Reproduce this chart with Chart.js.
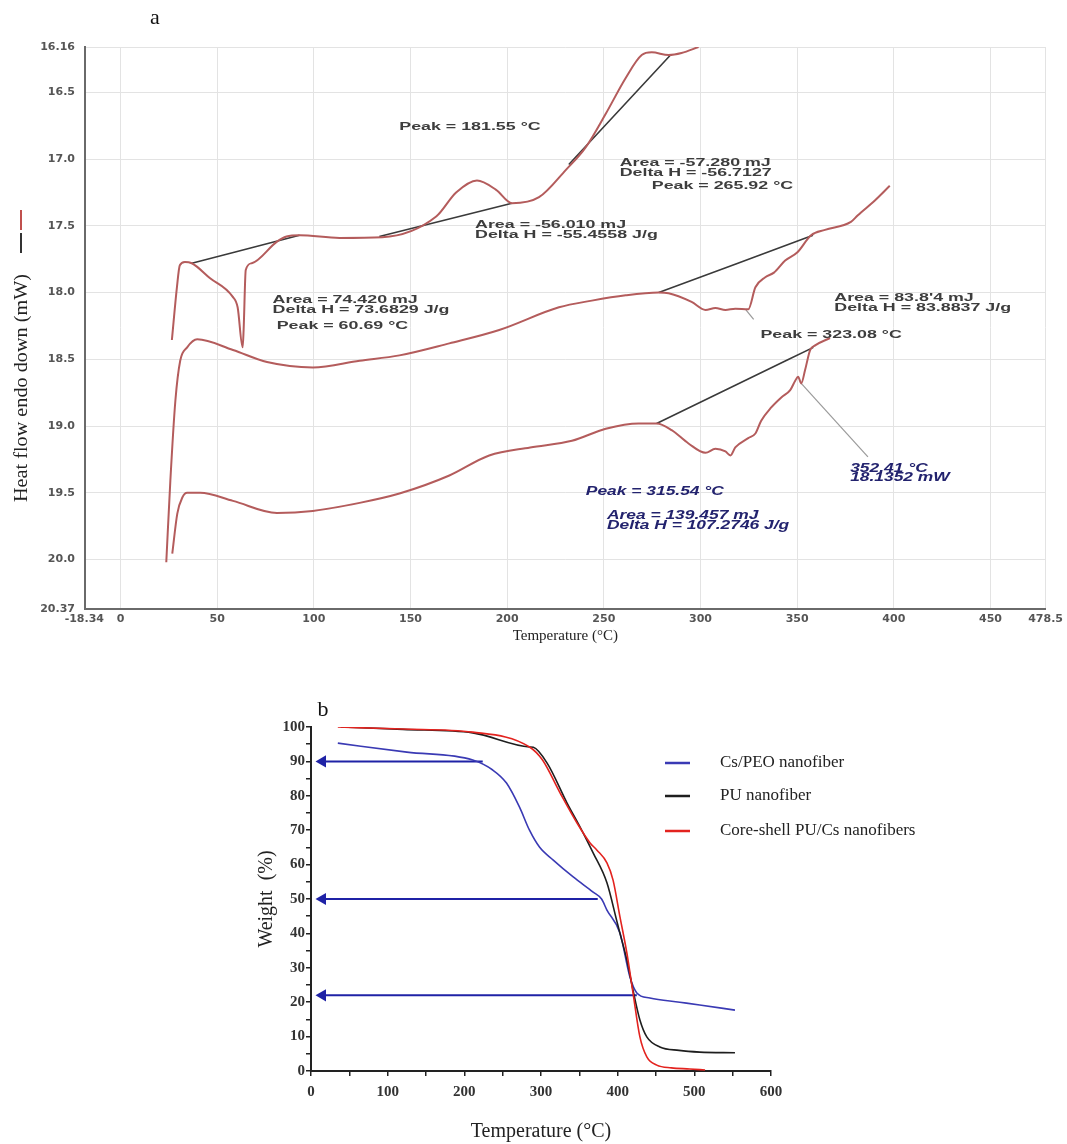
<!DOCTYPE html>
<html>
<head>
<meta charset="utf-8">
<script src="https://cdn.jsdelivr.net/npm/chart.js@4.4.1/dist/chart.umd.min.js"></script>
<style>
  html, body { margin: 0; padding: 0; background: #fff; }
  #page { position: relative; width: 1067px; height: 1144px; overflow: hidden; }
  .box { position: absolute; left: 0; width: 1067px; }
  #boxA { top: 0; height: 650px; }
  #boxB { top: 650px; height: 494px; }
</style>
</head>
<body>
<div id="page">
  <div class="box" id="boxA"><canvas id="dsc"></canvas></div>
  <div class="box" id="boxB"><canvas id="tga"></canvas></div>
</div>
<script>
// ---- (a) DSC curves ----
var dscTicksX = [-18.34, 0, 50, 100, 150, 200, 250, 300, 350, 400, 450, 478.5];
var dscTicksY = [16.16, 16.5, 17.0, 17.5, 18.0, 18.5, 19.0, 19.5, 20.0, 20.37];

var topTemp = [26.6, 29.2, 30.7, 33.3, 36.9, 46.2, 58.0, 60.6, 63.2, 63.7, 64.8, 67.9, 80.8, 85.9, 92.6, 113.3, 135.4, 163.3, 173.6, 184.4, 194.3, 202.5, 216.5, 230.4, 240.7, 251.0, 261.4, 269.6, 274.8, 283.5, 290.2, 299.0];
var topHeat = [18.355, 17.96, 17.795, 17.77, 17.78, 17.89, 18.03, 18.11, 18.41, 18.28, 17.83, 17.78, 17.62, 17.58, 17.57, 17.59, 17.585, 17.43, 17.25, 17.16, 17.23, 17.33, 17.285, 17.08, 16.91, 16.66, 16.39, 16.22, 16.2, 16.22, 16.205, 16.16];

var midTemp = [23.7, 25.8, 28.4, 30.9, 34.5, 39.7, 58.2, 75.8, 99.5, 123.7, 144.3, 170.1, 195.9, 226.8, 243.8, 261.3, 278.4, 283.5, 295.4, 302.6, 307.7, 312.9, 318.0, 324.7, 328.4, 333.5, 338.0, 343.8, 350.0, 357.2, 364.4, 377.8, 381.4, 390.2, 397.9];
var midHeat = [20.02, 19.41, 18.81, 18.51, 18.41, 18.35, 18.43, 18.52, 18.56, 18.51, 18.47, 18.38, 18.28, 18.11, 18.06, 18.02, 18.0, 18.005, 18.07, 18.13, 18.115, 18.13, 18.12, 18.125, 17.96, 17.885, 17.85, 17.76, 17.7, 17.57, 17.53, 17.47, 17.42, 17.31, 17.2];

var lowTemp = [26.8, 29.4, 32.0, 34.5, 41.2, 58.2, 80.9, 99.5, 123.7, 144.3, 170.1, 190.7, 211.9, 233.5, 251.0, 268.0, 277.3, 285.1, 293.8, 302.6, 307.7, 312.9, 315.5, 318.0, 324.7, 328.4, 331.4, 336.6, 341.8, 346.4, 349.0, 350.5, 352.1, 354.1, 356.7, 359.3, 367.0];
var lowHeat = [19.955, 19.655, 19.535, 19.5, 19.5, 19.56, 19.65, 19.635, 19.575, 19.505, 19.37, 19.22, 19.16, 19.11, 19.02, 18.98, 18.98, 19.03, 19.13, 19.2, 19.17, 19.19, 19.22, 19.16, 19.09, 19.055, 18.96, 18.86, 18.785, 18.73, 18.66, 18.63, 18.68, 18.58, 18.43, 18.395, 18.34];

var tangentTemps = [[36.9, 92.6], [133.9, 202.5], [231.9, 284.5], [278.4, 358.2], [277.3, 358.4]];
var tangentHeats = [[17.78, 17.57], [17.58, 17.33], [17.04, 16.22], [18.0, 17.57], [18.98, 18.41]];
var leaderTemps = [[323.5, 327.5], [352.1, 386.6]];
var leaderHeats = [[18.13, 18.2], [18.68, 19.23]];

// ---- (b) TGA curves ----
var tgaNames = ['Cs/PEO nanofiber', 'PU nanofiber', 'Core-shell PU/Cs nanofibers'];

var peoTemp = [35, 125, 211, 237, 255, 272, 285, 298, 316, 342, 368, 379, 386, 403, 416, 425, 442, 481, 507, 553];
var peoWeight = [95.3, 92.7, 90.4, 87.5, 83.7, 76.7, 70.0, 65.1, 61.3, 56.4, 52.0, 50.0, 46.8, 40.1, 27.3, 22.7, 21.2, 20.0, 19.2, 17.7];

var puTemp = [39, 120, 211, 285, 290, 308, 334, 351, 368, 386, 399, 403, 412, 420, 429, 438, 455, 480, 507, 553];
var puWeight = [100, 99.3, 98.3, 94.2, 94.1, 89.5, 77.9, 70.9, 63.4, 54.7, 43.5, 40.0, 32.3, 23.5, 14.8, 9.9, 7.0, 6.0, 5.5, 5.3];

var coreTemp = [35, 120, 211, 285, 302, 325, 347, 364, 373, 386, 394, 403, 412, 420, 429, 438, 451, 470, 494, 514];
var coreWeight = [100, 99.4, 98.5, 94.2, 90.4, 80.8, 72.1, 66.3, 64.2, 60.5, 55.5, 44.8, 34.3, 22.7, 9.9, 4.1, 1.7, 0.9, 0.6, 0.3];

var arrowLevels = [90, 50, 22];
var arrowEnds = [224, 374, 425];
var arrowStart = 15;

function pairs(xs, ys) {
  return xs.map(function (x, i) { return { x: x, y: ys[i] }; });
}

function stretchText(ctx, text, x, y, font, color, sx) {
  ctx.save();
  ctx.font = font;
  ctx.fillStyle = color;
  ctx.textBaseline = 'middle';
  ctx.textAlign = 'left';
  ctx.translate(x, y);
  ctx.scale(sx, 1);
  ctx.fillText(text, 0, 0);
  ctx.restore();
}

var dscNotes = [
  { text: 'Peak = 181.55 °C', t: 144.2, h: 16.76 },
  { text: 'Area = -57.280 mJ', t: 258.2, h: 17.025 },
  { text: 'Delta H = -56.7127', t: 258.2, h: 17.1 },
  { text: 'Peak = 265.92 °C', t: 274.8, h: 17.2 },
  { text: 'Area = -56.010 mJ', t: 183.4, h: 17.49 },
  { text: 'Delta H = -55.4558 J/g', t: 183.4, h: 17.565 },
  { text: 'Area = 74.420 mJ', t: 78.7, h: 18.055 },
  { text: 'Delta H = 73.6829 J/g', t: 78.7, h: 18.13 },
  { text: 'Peak = 60.69 °C', t: 80.8, h: 18.25 },
  { text: "Area = 83.8'4 mJ", t: 369.2, h: 18.04 },
  { text: 'Delta H = 83.8837 J/g', t: 369.2, h: 18.115 },
  { text: 'Peak = 323.08 °C', t: 331.0, h: 18.32 },
  { text: '352.41 °C', t: 377.4, h: 19.32, blue: true },
  { text: '18.1352 mW', t: 377.4, h: 19.39, blue: true },
  { text: 'Peak = 315.54 °C', t: 240.7, h: 19.49, blue: true },
  { text: 'Area = 139.457 mJ', t: 251.6, h: 19.67, blue: true },
  { text: 'Delta H = 107.2746 J/g', t: 251.6, h: 19.745, blue: true }
];

var tickFont = 'bold 11px "DejaVu Sans"';

var dscOverlay = {
  id: 'dscOverlay',
  afterDraw: function (chart) {
    var ctx = chart.ctx;
    var xs = chart.scales.x;
    var ys = chart.scales.y;

    ctx.save();
    ctx.font = '22px "Liberation Serif"';
    ctx.fillStyle = '#111';
    ctx.textAlign = 'center';
    ctx.textBaseline = 'middle';
    ctx.fillText('a', 155, 18);

    // first x tick label sits left of the axis in the original
    ctx.font = tickFont;
    ctx.fillStyle = '#555';
    ctx.textAlign = 'right';
    ctx.textBaseline = 'top';
    ctx.fillText(String(dscTicksX[0]), 104, xs.top + 5);
    ctx.restore();

    dscNotes.forEach(function (n) {
      var font = n.blue ? 'italic bold 12px "Liberation Sans"' : 'bold 11px "Liberation Sans"';
      var color = n.blue ? '#23236e' : '#3d3d3d';
      stretchText(ctx, n.text, xs.getPixelForValue(n.t), ys.getPixelForValue(n.h), font, color, n.blue ? 1.45 : 1.62);
    });

    // y title with the little trace markers
    ctx.save();
    ctx.translate(22, 388);
    ctx.rotate(-Math.PI / 2);
    ctx.font = '18px "Liberation Serif"';
    var title = 'Heat flow endo down (mW)';
    var w = ctx.measureText(title).width;
    ctx.scale(228 / w, 1);
    ctx.fillStyle = '#222';
    ctx.textAlign = 'center';
    ctx.textBaseline = 'middle';
    ctx.fillText(title, 0, 0);
    ctx.restore();

    ctx.save();
    ctx.lineWidth = 2;
    ctx.strokeStyle = '#333';
    ctx.beginPath(); ctx.moveTo(21, 253); ctx.lineTo(21, 233); ctx.stroke();
    ctx.strokeStyle = '#c0504d';
    ctx.beginPath(); ctx.moveTo(21, 230); ctx.lineTo(21, 210); ctx.stroke();
    ctx.restore();
  }
};

var curveColor = '#b45c5c';
var dscSets = [
  { data: pairs(topTemp, topHeat), borderColor: curveColor, borderWidth: 2 },
  { data: pairs(midTemp, midHeat), borderColor: curveColor, borderWidth: 2 },
  { data: pairs(lowTemp, lowHeat), borderColor: curveColor, borderWidth: 2 }
];
tangentTemps.forEach(function (xs, i) {
  dscSets.push({ data: pairs(xs, tangentHeats[i]), borderColor: '#3a3a3a', borderWidth: 1.6 });
});
leaderTemps.forEach(function (xs, i) {
  dscSets.push({ data: pairs(xs, leaderHeats[i]), borderColor: '#9a9a9a', borderWidth: 1.2 });
});
dscSets.forEach(function (s) {
  s.pointRadius = 0;
  s.cubicInterpolationMode = 'monotone';
  s.fill = false;
});

new Chart(document.getElementById('dsc'), {
  type: 'line',
  data: { datasets: dscSets },
  options: {
    responsive: true,
    maintainAspectRatio: false,
    animation: false,
    layout: { padding: { top: 47, right: 19, left: 0, bottom: 0 } },
    plugins: { legend: { display: false }, tooltip: { enabled: false } },
    scales: {
      x: {
        type: 'linear',
        min: -18.34,
        max: 478.5,
        afterBuildTicks: function (scale) {
          scale.ticks = dscTicksX.map(function (v) { return { value: v }; });
        },
        afterFit: function (scale) { scale.height = 41; },
        ticks: {
          autoSkip: false,
          maxRotation: 0,
          padding: 4,
          color: '#555',
          font: { family: 'DejaVu Sans', size: 11, weight: 'bold' },
          callback: function (v, i) { return i === 0 ? '' : String(v); }
        },
        grid: { color: '#e3e3e3', drawTicks: false },
        border: { color: '#6a6a6a', width: 2 },
        title: {
          display: true,
          text: 'Temperature (°C)',
          color: '#222',
          font: { family: 'Liberation Serif', size: 15 },
          padding: { top: 0, bottom: 5 }
        }
      },
      y: {
        type: 'linear',
        reverse: true,
        min: 16.16,
        max: 20.37,
        afterBuildTicks: function (scale) {
          scale.ticks = dscTicksY.map(function (v) { return { value: v }; });
        },
        afterFit: function (scale) { scale.width = 85; },
        ticks: {
          autoSkip: false,
          padding: 10,
          color: '#555',
          font: { family: 'DejaVu Sans', size: 11, weight: 'bold' },
          callback: function (v) {
            return (v === 16.16 || v === 20.37) ? String(v) : v.toFixed(1);
          }
        },
        grid: { color: '#e3e3e3', drawTicks: false },
        border: { color: '#6a6a6a', width: 2 }
      }
    }
  },
  plugins: [dscOverlay]
});

// ---- (b) chart ----
var tgaColors = ['#3a3ab4', '#1e1e1e', '#e3231f'];

var tgaOverlay = {
  id: 'tgaOverlay',
  afterDraw: function (chart) {
    var ctx = chart.ctx;
    ctx.save();
    ctx.font = '22px "Liberation Serif"';
    ctx.fillStyle = '#111';
    ctx.textAlign = 'center';
    ctx.textBaseline = 'middle';
    ctx.fillText('b', 323, 60);

    ctx.font = '17px "Liberation Serif"';
    ctx.textAlign = 'left';
    var rows = [113, 146, 181];
    tgaNames.forEach(function (name, i) {
      ctx.strokeStyle = tgaColors[i];
      ctx.lineWidth = 2.5;
      ctx.beginPath();
      ctx.moveTo(665, rows[i]);
      ctx.lineTo(690, rows[i]);
      ctx.stroke();
      ctx.fillStyle = '#222';
      ctx.fillText(name, 720, rows[i]);
    });
    ctx.restore();
  }
};

var tgaSets = [
  { label: tgaNames[2], data: pairs(coreTemp, coreWeight), borderColor: tgaColors[2], borderWidth: 1.6 },
  { label: tgaNames[1], data: pairs(puTemp, puWeight), borderColor: tgaColors[1], borderWidth: 1.6 },
  { label: tgaNames[0], data: pairs(peoTemp, peoWeight), borderColor: tgaColors[0], borderWidth: 1.6 }
];
tgaSets.forEach(function (s) {
  s.pointRadius = 0;
  s.cubicInterpolationMode = 'monotone';
});
arrowLevels.forEach(function (lvl, i) {
  tgaSets.push({
    label: '',
    data: [{ x: arrowStart, y: lvl }, { x: arrowEnds[i], y: lvl }],
    borderColor: '#1f22a6',
    backgroundColor: '#1f22a6',
    borderWidth: 2,
    pointStyle: 'triangle',
    pointRotation: -90,
    pointRadius: [7, 0],
    pointBorderWidth: 0,
    pointBackgroundColor: '#1f22a6'
  });
});

new Chart(document.getElementById('tga'), {
  type: 'line',
  data: { datasets: tgaSets },
  options: {
    responsive: true,
    maintainAspectRatio: false,
    animation: false,
    layout: { padding: { top: 77, right: 296, left: 240, bottom: 0 } },
    plugins: { legend: { display: false }, tooltip: { enabled: false } },
    scales: {
      x: {
        type: 'linear',
        min: 0,
        max: 600,
        afterFit: function (scale) { scale.height = 73; },
        ticks: {
          stepSize: 50,
          autoSkip: false,
          maxRotation: 0,
          padding: 7,
          color: '#333',
          font: { family: 'Liberation Serif', size: 15, weight: 'bold' },
          callback: function (v) { return v % 100 === 0 ? String(v) : ''; }
        },
        grid: { drawOnChartArea: false, drawTicks: true, tickLength: 5, color: '#222', lineWidth: 1.5 },
        border: { color: '#222', width: 2 },
        title: {
          display: true,
          text: 'Temperature (°C)',
          color: '#222',
          font: { family: 'Liberation Serif', size: 20 },
          padding: { top: 0, bottom: 0 }
        }
      },
      y: {
        type: 'linear',
        min: 0,
        max: 100,
        afterFit: function (scale) { scale.width = 71; },
        ticks: {
          stepSize: 5,
          autoSkip: false,
          padding: 1,
          color: '#333',
          font: { family: 'Liberation Serif', size: 15, weight: 'bold' },
          callback: function (v) { return v % 10 === 0 ? String(v) : ''; }
        },
        grid: { drawOnChartArea: false, drawTicks: true, tickLength: 5, color: '#222', lineWidth: 1.5 },
        border: { color: '#222', width: 2 },
        title: {
          display: true,
          text: 'Weight  (%)',
          color: '#222',
          font: { family: 'Liberation Serif', size: 20 },
          padding: { top: 15, bottom: 0 }
        }
      }
    }
  },
  plugins: [tgaOverlay]
});
</script>
</body>
</html>
